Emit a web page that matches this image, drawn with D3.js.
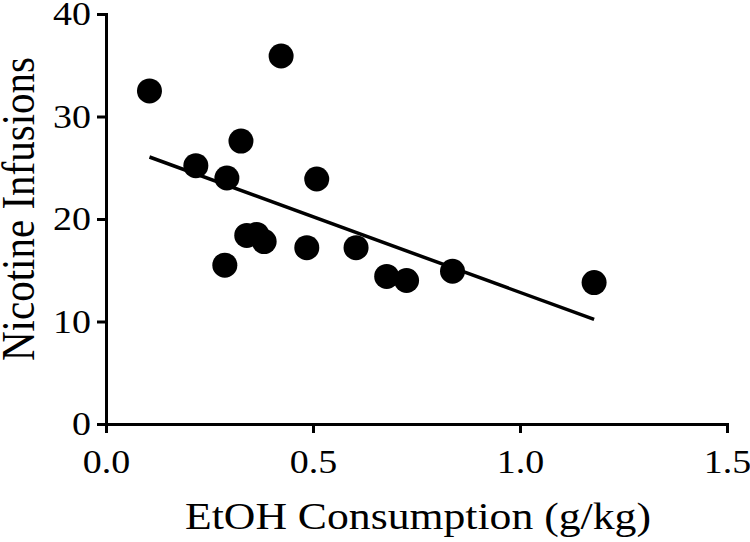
<!DOCTYPE html>
<html>
<head>
<meta charset="utf-8">
<script src="https://cdn.jsdelivr.net/npm/d3@7"></script>
<style>
  html, body { margin: 0; padding: 0; background: #fff; }
  svg { display: block; }
  text { font-family: "Liberation Serif", "Times New Roman", serif; fill: #000; }
</style>
</head>
<body>
<svg id="chart" width="750" height="542"></svg>
<script>
// EtOH consumption (g/kg)
const etoh = [0.105, 0.423, 0.326, 0.217, 0.292, 0.509, 0.340, 0.364, 0.382, 0.485, 0.287, 0.604, 0.678, 0.726, 0.837, 1.179];
// Nicotine infusions
const infusions = [32.5, 35.9, 27.6, 25.2, 24.0, 23.9, 18.4, 18.5, 17.8, 17.2, 15.5, 17.2, 14.4, 14.0, 14.9, 13.8];
// Fitted regression line end points [x, y]
const fitX = [0.105, 1.179];
const fitY = [26.05, 10.2];
const xTicks = [0, 0.5, 1.0, 1.5];
const yTicks = [0, 10, 20, 30, 40];

const svg = d3.select("#chart");
const x = d3.scaleLinear().domain([0, 1.5]).range([106, 727]);
const y = d3.scaleLinear().domain([0, 40]).range([424, 14]);
const stretch = 1.15; // the reference text is horizontally wide

const xAxis = d3.axisBottom(x).tickValues(xTicks).tickFormat(d3.format(".1f"))
  .tickSize(9).tickSizeOuter(0).tickPadding(17);
const yAxis = d3.axisLeft(y).tickValues(yTicks).tickFormat(d3.format("d"))
  .tickSize(9).tickSizeOuter(0).tickPadding(6);

const gx = svg.append("g").attr("transform", "translate(0,424)").call(xAxis);
const gy = svg.append("g").attr("transform", "translate(106,0)").call(yAxis);
[gx, gy].forEach(g => {
  g.selectAll("path, line").attr("stroke", "#000").attr("stroke-width", 3);
  g.select("path.domain").attr("stroke-linecap", "square");
  g.selectAll("text").style("font-size", "33px").style("font-family", "'Liberation Serif', serif").attr("fill", "#000");
});
// widen tick labels around their anchor
gx.selectAll(".tick text").attr("transform", `scale(${stretch},1)`);
gy.selectAll(".tick text").each(function() {
  const t = d3.select(this);
  const tx = +t.attr("x");
  t.attr("transform", `translate(${tx},0) scale(${stretch},1) translate(${-tx},0)`);
});

// regression line
svg.append("line")
  .attr("x1", x(fitX[0])).attr("y1", y(fitY[0]))
  .attr("x2", x(fitX[1])).attr("y2", y(fitY[1]))
  .attr("stroke", "#000").attr("stroke-width", 3.5);

// points
svg.append("g").selectAll("circle")
  .data(etoh.map((d, i) => [d, infusions[i]]))
  .join("circle")
  .attr("cx", d => x(d[0])).attr("cy", d => y(d[1]))
  .attr("r", 12.5).attr("fill", "#000");

// axis titles
svg.append("text")
  .attr("transform", `translate(418,529) scale(${stretch},1)`)
  .attr("text-anchor", "middle")
  .style("font-size", "38px")
  .text("EtOH Consumption (g/kg)");

svg.append("text")
  .attr("transform", `translate(34,209) scale(${stretch},1) rotate(-90)`)
  .attr("text-anchor", "middle")
  .style("font-size", "41px")
  .text("Nicotine Infusions");
</script>
</body>
</html>
